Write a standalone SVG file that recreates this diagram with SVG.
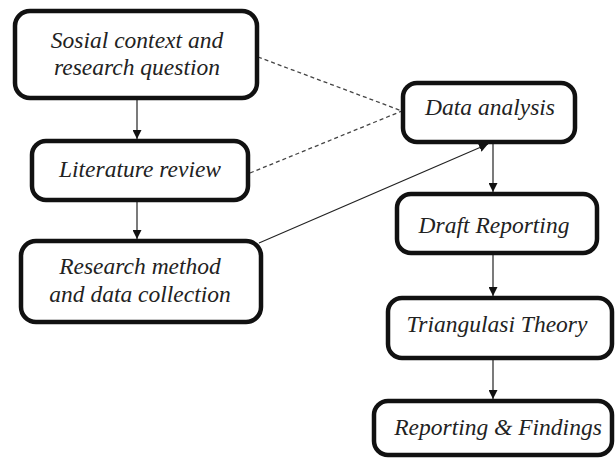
<svg xmlns="http://www.w3.org/2000/svg" width="616" height="459" viewBox="0 0 616 459">
<defs>
<marker id="ah" viewBox="0 0 10 10" refX="10" refY="5" markerWidth="9" markerHeight="9" markerUnits="userSpaceOnUse" orient="auto">
<path d="M0,0 L10,5 L0,10 Z" fill="#111"/>
</marker>
<style>
.box{fill:#fff;stroke:#111;stroke-width:4.5}
.t{font-family:'Liberation Serif','Times New Roman',serif;font-style:italic;font-size:23.5px;fill:#222;text-anchor:middle}
.c{stroke:#222;stroke-width:1.2;fill:none}
.d{stroke:#444;stroke-width:1.3;fill:none;stroke-dasharray:4,3}
</style>
</defs>
<rect width="616" height="459" fill="#fff"/>
<g id="connectors">
<line class="c" x1="137" y1="99" x2="137" y2="139" marker-end="url(#ah)"/>
<line class="c" x1="137" y1="201" x2="137" y2="239" marker-end="url(#ah)"/>
<line class="d" x1="258" y1="57" x2="402" y2="111"/>
<line class="d" x1="250" y1="173" x2="402" y2="111"/>
<line class="c" x1="259" y1="243" x2="488" y2="144" marker-end="url(#ah)"/>
<line class="c" x1="493" y1="143" x2="493" y2="192" marker-end="url(#ah)"/>
<line class="c" x1="493" y1="254" x2="493" y2="296" marker-end="url(#ah)"/>
<line class="c" x1="493" y1="359" x2="493" y2="399" marker-end="url(#ah)"/>
</g>
<g id="n1"><rect class="box" x="15" y="11" width="242" height="87" rx="15"/><text class="t" x="137" y="48">Sosial context and</text><text class="t" x="137" y="75">research question</text></g>
<g id="n2"><rect class="box" x="32" y="141" width="216" height="59" rx="14"/><text class="t" x="140" y="177">Literature review</text></g>
<g id="n3"><rect class="box" x="21" y="241" width="240" height="81" rx="15"/><text class="t" x="140" y="274">Research method</text><text class="t" x="140" y="302">and data collection</text></g>
<g id="n4"><rect class="box" x="403" y="83" width="172" height="59" rx="14"/><text class="t" x="490" y="115">Data analysis</text></g>
<g id="n5"><rect class="box" x="397" y="194" width="200" height="59" rx="14"/><text class="t" x="494" y="233">Draft Reporting</text></g>
<g id="n6"><rect class="box" x="388" y="298" width="224" height="60" rx="14"/><text class="t" x="497" y="332">Triangulasi Theory</text></g>
<g id="n7"><rect class="box" x="374" y="401" width="238" height="54" rx="14"/><text class="t" x="498" y="435">Reporting &amp; Findings</text></g>
</svg>
